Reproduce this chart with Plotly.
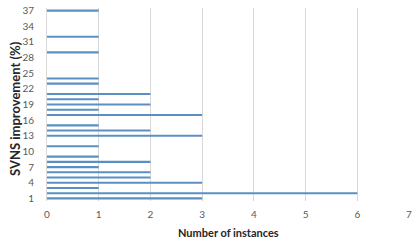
import plotly.graph_objects as go

categories = list(range(1, 38))
instances = [3, 6, 1, 3, 2, 2, 1, 2, 1, 0,
             1, 0, 3, 2, 1, 0, 3, 1, 2, 1,
             2, 0, 1, 1, 0, 0, 0, 0, 1, 0,
             0, 1, 0, 0, 0, 0, 1]
y_ticks = list(range(1, 38, 3))
x_ticks = list(range(0, 8))

FONT = "Lato, 'Open Sans', sans-serif"
GRID = "#d9d9d9"
TXT = "#595959"
TITLE = "#262626"

W, H = 419, 246
L, R, T, B = 47, 10, 8, 45

fig = go.Figure(go.Bar(
    x=instances, y=categories, orientation="h",
    marker=dict(color="#5b8fc4", line=dict(width=0)),
    width=0.4,
))

fig.update_layout(
    width=W, height=H,
    margin=dict(l=L, r=R, t=T, b=B, autoexpand=False),
    paper_bgcolor="white", plot_bgcolor="white",
    showlegend=False,
    font=dict(family=FONT, size=10, color=TXT),
    annotations=[
        dict(text="<b>Number of instances</b>", xref="paper", yref="paper",
             x=0.5, y=-(233 - (H - B)) / (H - T - B), xanchor="center", yanchor="middle",
             showarrow=False, font=dict(size=11, color=TITLE)),
        dict(text="<b>SVNS improvement (%)</b>", xref="paper", yref="paper",
             x=-(L - 15) / (W - L - R), y=((H - B) - 109) / (H - T - B),
             xanchor="center", yanchor="middle",
             textangle=-90, showarrow=False, font=dict(size=13, color=TITLE)),
    ],
)
fig.update_xaxes(
    range=[0, 7], tickvals=x_ticks, showgrid=True, gridcolor=GRID, gridwidth=1,
    zeroline=False, showline=False, ticklabelstandoff=6, automargin=False,
    tickfont=dict(size=10, color=TXT),
)
fig.update_yaxes(
    range=[0.5, 37.5], tickvals=y_ticks, ticktext=[str(v) for v in y_ticks],
    showgrid=False, zeroline=False, showline=True, linecolor=GRID, linewidth=1,
    ticklabelstandoff=10, automargin=False, tickfont=dict(size=10, color=TXT),
)

fig.write_html("out.html", config={"displayModeBar": False},
               post_script="document.body.style.margin='0px';document.body.style.overflow='hidden';")
